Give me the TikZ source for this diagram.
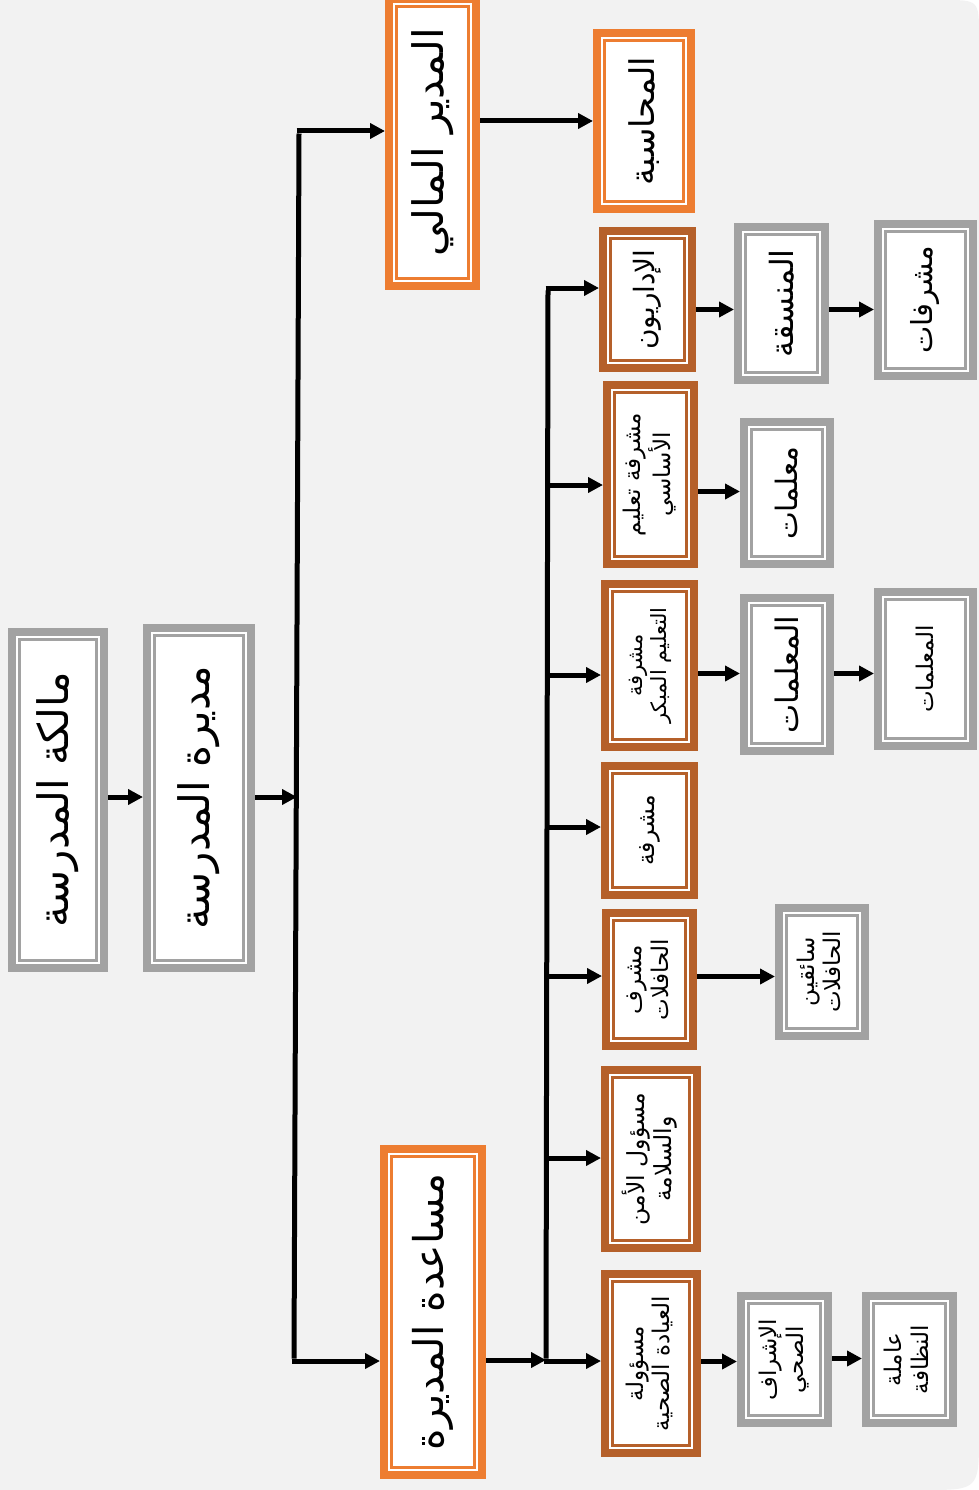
\documentclass[tikz,border=0pt]{standalone}
\usepackage{fontspec}
\usepackage{graphicx}
\usetikzlibrary{arrows.meta,calc}
\TeXXeTstate=1
\newfontfamily\arfont[Script=Arabic]{DejaVu Sans}
\definecolor{bgc}{HTML}{F2F2F2}
\definecolor{orng}{HTML}{ED7D31}
\definecolor{brwn}{HTML}{B5602A}
\definecolor{gry}{HTML}{A2A2A2}
\newcommand\rone[2]{\fontsize{#1}{#1}\selectfont\rotatebox{90}{#2}}
\newcommand\rtwo[3]{\fontsize{#1}{1.15\dimexpr#1pt\relax}\selectfont\rotatebox{90}{\begin{tabular}{@{}c@{}}#2\\#3\end{tabular}}}
\tikzset{
  orgbox/.style={rectangle, fill=white, draw=#1, line width=8pt, inner sep=0pt, font=\arfont,
    path picture={\draw[#1, line width=2.3pt] ([shift={(7.5pt,-7.5pt)}]path picture bounding box.north west) rectangle ([shift={(-7.5pt,7.5pt)}]path picture bounding box.south east);}},
  bsz/.style 2 args={minimum width=#1pt-8pt, minimum height=#2pt-8pt},
  conn/.style={line width=5pt, draw=black},
  arr/.style={conn, -{Triangle[length=15pt,width=15pt]}}
}
\begin{document}
\begin{tikzpicture}[x=1pt,y=-1pt]
\useasboundingbox (0,0) rectangle (979,1490);
\fill[bgc] (0,0) -- (943,0) .. controls (979,0) .. (979,36) -- (979,1434) .. controls (979,1490) .. (923,1490) -- (0,1490) -- cycle;

% coordinates of trunks
\coordinate (j1) at (297,797);
\coordinate (t1a) at (299,131);
\coordinate (t1b) at (294,1361);
\coordinate (j2) at (546,1360);
\coordinate (t2a) at (548,288);
\coordinate (t2b) at (546,1361);
\coordinate (b2) at (548,485);
\coordinate (b3) at (548,675);
\coordinate (b4) at (547,827);
\coordinate (b5) at (547,976);
\coordinate (b6) at (546,1158);

% nodes
\node[orgbox=gry, bsz={100}{344}] (owner) at (58,800) {\rone{42}{\beginR مالكة المدرسة\endR}};
\node[orgbox=gry, bsz={112}{348}] (head) at (199,798) {\rone{42}{\beginR مديرة المدرسة\endR}};
\node[orgbox=orng, bsz={95}{295}] (fin) at (432.5,142.5) {\rone{42}{\beginR المدير المالي\endR}};
\node[orgbox=orng, bsz={102}{184}] (acct) at (644,121) {\rone{34}{\beginR المحاسبة\endR}};
\node[orgbox=orng, bsz={106}{334}] (asst) at (433,1312) {\rone{41}{\beginR مساعدة المديرة\endR}};

\node[orgbox=brwn, bsz={97}{145}] (admins) at (647.5,299.5) {\rone{28}{\beginR الإداريون\endR}};
\node[orgbox=brwn, bsz={95}{187}] (basic) at (650.5,474.5) {\rtwo{23}{\beginR مشرفة تعليم\endR}{\beginR الأساسي\endR}};
\node[orgbox=brwn, bsz={97}{171}] (early) at (649.5,665.5) {\rtwo{21}{\beginR مشرفة\endR}{\beginR التعليم المبكر\endR}};
\node[orgbox=brwn, bsz={97}{137}] (sup) at (649.5,830.5) {\rone{23.5}{\beginR مشرفة\endR}};
\node[orgbox=brwn, bsz={95}{141}] (bus) at (649.5,979.5) {\rtwo{23}{\beginR مشرف\endR}{\beginR الحافلات\endR}};
\node[orgbox=brwn, bsz={100}{186}] (safety) at (651,1159) {\rtwo{23.5}{\beginR مسؤول الأمن\endR}{\beginR والسلامة\endR}};
\node[orgbox=brwn, bsz={100}{187}] (clinic) at (651,1363.5) {\rtwo{23}{\beginR مسؤولة\endR}{\beginR العيادة الصحية\endR}};

\node[orgbox=gry, bsz={95}{161}] (coord) at (781.5,303.5) {\rone{32}{\beginR المنسقة\endR}};
\node[orgbox=gry, bsz={103}{160}] (supsF) at (925.5,300) {\rone{29}{\beginR مشرفات\endR}};
\node[orgbox=gry, bsz={94}{150}] (tch1) at (787,493) {\rone{29.5}{\beginR معلمات\endR}};
\node[orgbox=gry, bsz={94}{161}] (tch2) at (787,674.5) {\rone{31}{\beginR المعلمات\endR}};
\node[orgbox=gry, bsz={103}{162}] (tch3) at (925.5,669) {\rone{23}{\beginR المعلمات\endR}};
\node[orgbox=gry, bsz={94}{136}] (drivers) at (822,972) {\rtwo{23}{\beginR سائقين\endR}{\beginR الحافلات\endR}};
\node[orgbox=gry, bsz={95}{135}] (health) at (784.5,1359.5) {\rtwo{23}{\beginR الإشراف\endR}{\beginR الصحي\endR}};
\node[orgbox=gry, bsz={95}{135}] (clean) at (909.5,1359.5) {\rtwo{23}{\beginR عاملة\endR}{\beginR النظافة\endR}};

% connectors
\draw[arr] (owner.east |- j1) -- (head.west |- j1);
\draw[arr] (head.east |- j1) -- (j1);
\draw[conn] ([yshift=-2.5pt]t1a) -- ([yshift=2.5pt]t1b);
\draw[arr] ([xshift=-2.5pt]t1a) -- (fin.west |- t1a);
\draw[arr] ([xshift=-2.5pt]t1b) -- (asst.west |- t1b);
\draw[arr] (fin.east |- acct) -- (acct.west);
\draw[arr] (asst.east |- j2) -- (j2);
\draw[conn] ([yshift=-2.5pt]t2a) -- ([yshift=2.5pt]t2b);
\draw[arr] ([xshift=-2.5pt]t2a) -- (admins.west |- t2a);
\draw[arr] (b2) -- (basic.west |- b2);
\draw[arr] (b3) -- (early.west |- b3);
\draw[arr] (b4) -- (sup.west |- b4);
\draw[arr] (b5) -- (bus.west |- b5);
\draw[arr] (b6) -- (safety.west |- b6);
\draw[arr] ([xshift=-2.5pt]t2b) -- (clinic.west |- t2b);
\draw[arr] ($(admins.east)+(0,10)$) -- ($(coord.west |- admins.east)+(0,10)$);
\draw[arr] ($(coord.east)+(0,6)$) -- ($(supsF.west |- coord.east)+(0,6)$);
\draw[arr] ($(basic.east)+(0,17)$) -- ($(tch1.west |- basic.east)+(0,17)$);
\draw[arr] ($(early.east)+(0,8)$) -- ($(tch2.west |- early.east)+(0,8)$);
\draw[arr] ($(tch2.east)+(0,-1)$) -- ($(tch3.west |- tch2.east)+(0,-1)$);
\draw[arr] ($(bus.east)+(0,-3)$) -- ($(drivers.west |- bus.east)+(0,-3)$);
\draw[arr] ($(clinic.east)+(0,-2)$) -- ($(health.west |- clinic.east)+(0,-2)$);
\draw[arr] ($(health.east)+(0,-1)$) -- ($(clean.west |- health.east)+(0,-1)$);
\end{tikzpicture}
\end{document}
